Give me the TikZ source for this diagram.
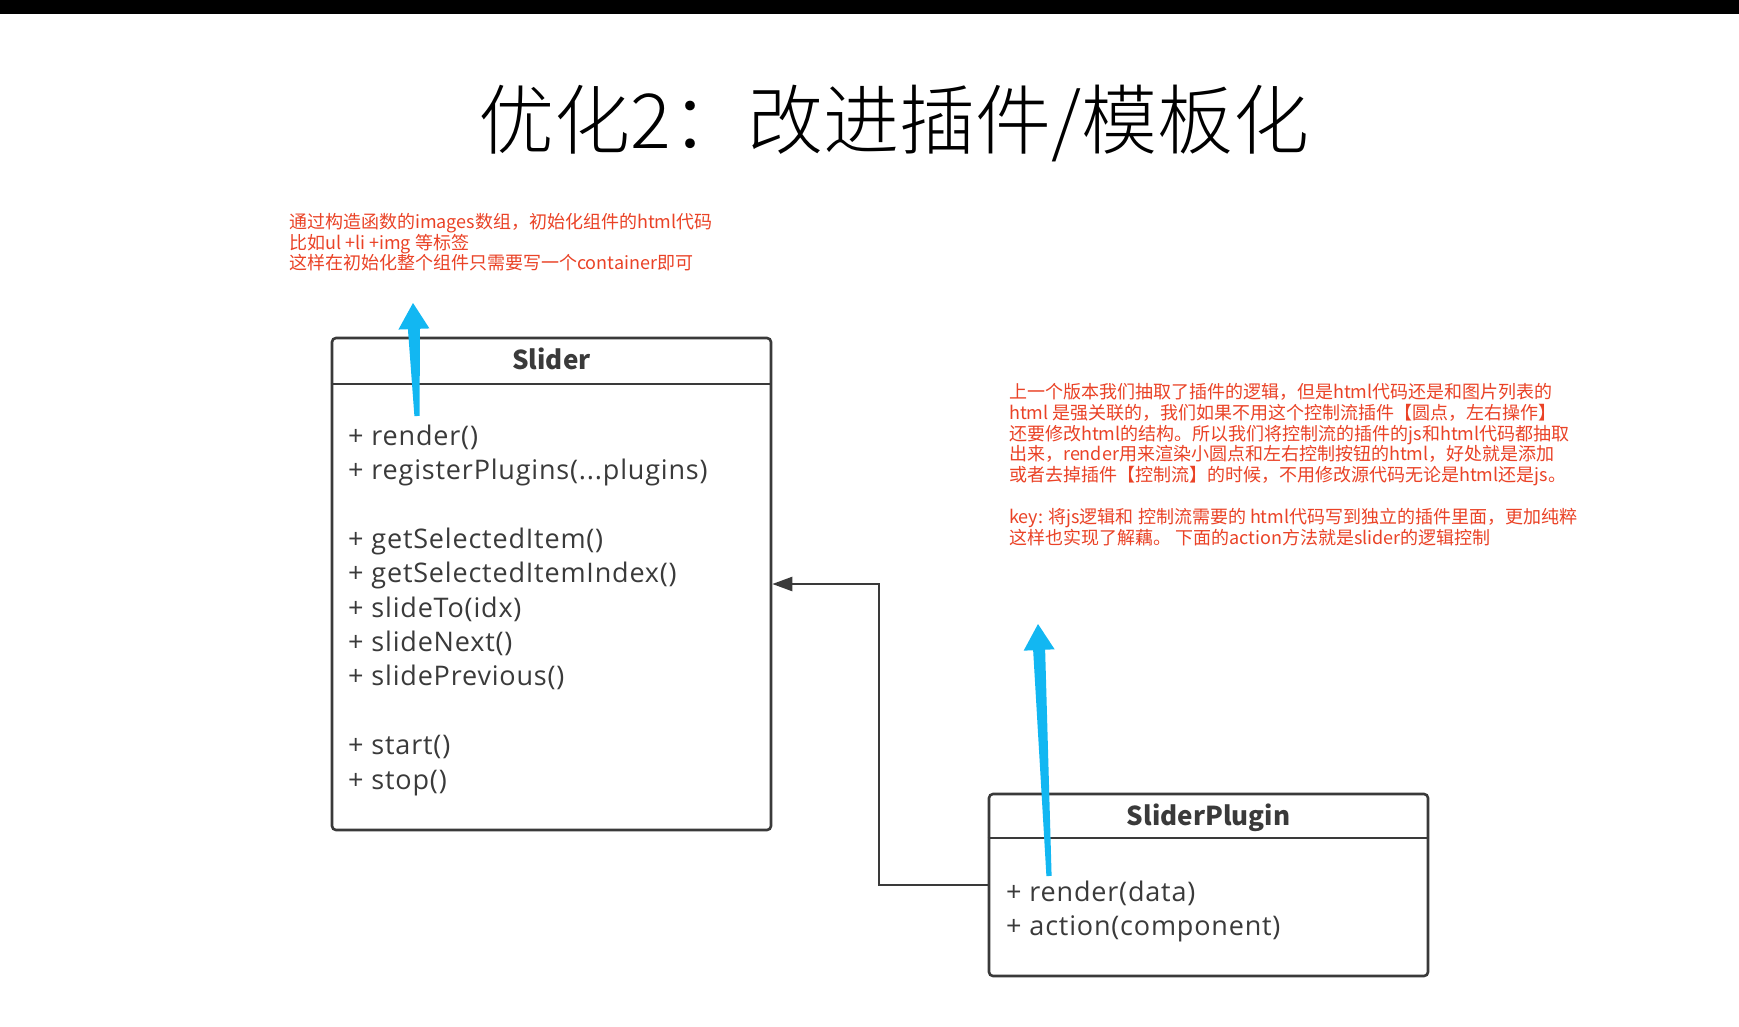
\documentclass[tikz,border=0pt]{standalone}
\usepackage{fontspec}
\setmainfont{Noto Sans CJK SC}
\newfontfamily\memberfont{Open Sans}[LetterSpace=3]
\newfontfamily\titlefont{Noto Sans CJK SC Light}
\usetikzlibrary{arrows.meta,calc}
\definecolor{ink}{RGB}{58,58,58}
\definecolor{note}{RGB}{234,66,38}
\definecolor{pointer}{RGB}{18,183,242}

% tapered call-out arrow from #1 (tail) to #2 (tip)
\newcommand\pointerarrow[2]{%
  \coordinate (#1h) at ($(#2)!26pt!(#1)$);
  \fill[pointer]
    ($(#1)!2.6pt!90:(#2)$) -- ($(#1h)!6pt!-90:(#1)$) -- ($(#1h)!15.5pt!-90:(#1)$) -- (#2)
    -- ($(#1h)!15.5pt!90:(#1)$) -- ($(#1h)!6pt!90:(#1)$) -- ($(#1)!2.6pt!-90:(#2)$) -- cycle;}

\begin{document}
\begin{tikzpicture}[x=1pt,y=-1pt,
  classbox/.style={draw=ink, line width=2.6pt, rounded corners=4pt, fill=white, inner sep=0pt},
  member/.style={anchor=base west, inner sep=0pt, text=ink, font=\memberfont\fontsize{27}{30}\selectfont},
  classname/.style={anchor=base, inner sep=0pt, text=ink, font=\bfseries\fontsize{26}{30}\selectfont},
  notetext/.style={anchor=north west, inner sep=0pt, align=left, text=note, font=\fontsize{18}{20.8}\selectfont},
  inherit/.style={draw=ink, line width=2.4pt, -{Triangle[length=20pt,width=14pt]}},
]
\useasboundingbox (0,0) rectangle (1739,1026);
\fill[white] (0,0) rectangle (1739,1026);
\fill[black] (0,0) rectangle (1739,14);

\node[anchor=center, inner sep=0pt, font=\titlefont\fontsize{76}{80}\selectfont] (title) at (894,123) {优化2：改进插件/模板化};

% class Slider
\node[classbox, minimum width=439pt, minimum height=492pt] (slider) at (551.5,584) {};
\draw[ink, line width=2.6pt] (slider.west |- 0,384) -- (slider.east |- 0,384);
\node[classname] (sliderName) at (551.5,369) {Slider};
\node[member] (m1) at (348,445) {+ render()};
\node[member] (m2) at (348,479) {+ registerPlugins(...plugins)};
\node[member] (m3) at (348,548) {+ getSelectedItem()};
\node[member] (m4) at (348,582) {+ getSelectedItemIndex()};
\node[member] (m5) at (348,617) {+ slideTo(idx)};
\node[member] (m6) at (348,651) {+ slideNext()};
\node[member] (m7) at (348,685) {+ slidePrevious()};
\node[member] (m8) at (348,754) {+ start()};
\node[member] (m9) at (348,789) {+ stop()};

% class SliderPlugin
\node[classbox, minimum width=439pt, minimum height=182pt] (plugin) at (1208.5,885) {};
\draw[ink, line width=2.6pt] (plugin.west |- 0,838) -- (plugin.east |- 0,838);
\node[classname] (pluginName) at (1208.5,825) {SliderPlugin};
\node[member] (p1) at (1006,901) {+ render(data)};
\node[member] (p2) at (1006,935) {+ action(component)};

% plugin relation
\draw[inherit] (plugin.west) -- ++(-109,0) |- (slider.east);

% notes
\node[notetext] (note1) at (289,213) {通过构造函数的images数组，初始化组件的html代码\\
比如ul +li +img 等标签\\
这样在初始化整个组件只需要写一个container即可};

\node[notetext] (note2) at (1009,383) {上一个版本我们抽取了插件的逻辑，但是html代码还是和图片列表的\\
html 是强关联的，我们如果不用这个控制流插件【圆点，左右操作】\\
还要修改html的结构。所以我们将控制流的插件的js和html代码都抽取\\
出来，render用来渲染小圆点和左右控制按钮的html，好处就是添加\\
或者去掉插件【控制流】的时候，不用修改源代码无论是html还是js。\\[20.8pt]
key: 将js逻辑和 控制流需要的 html代码写到独立的插件里面，更加纯粹\\
这样也实现了解藕。 下面的action方法就是slider的逻辑控制};

% call-out arrows
\coordinate (a1) at (417,416);
\coordinate (a1tip) at (413,303);
\pointerarrow{a1}{a1tip}
\coordinate (a2) at (1049,876);
\coordinate (a2tip) at (1038,624);
\pointerarrow{a2}{a2tip}
\end{tikzpicture}
\end{document}
